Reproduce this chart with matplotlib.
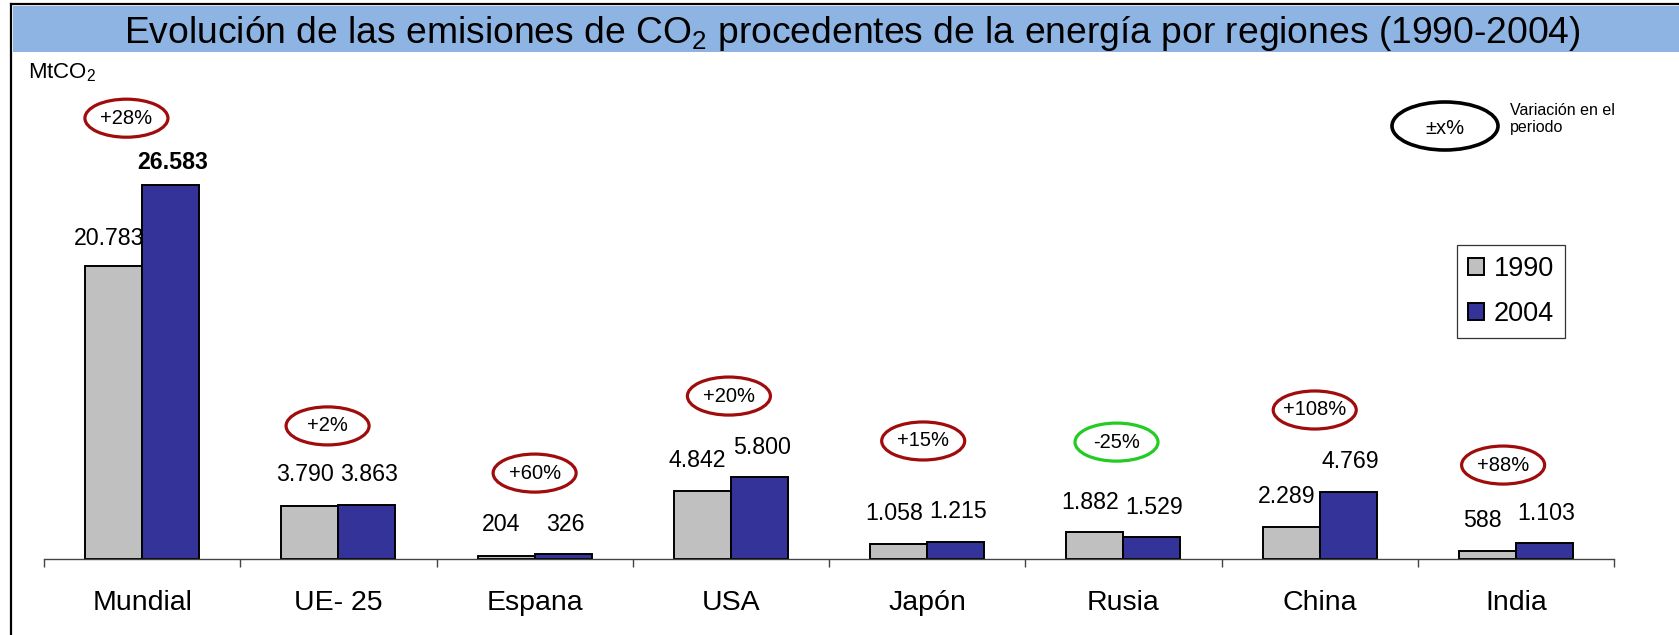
import matplotlib
matplotlib.use("Agg")
import matplotlib.pyplot as plt
from matplotlib.patches import Ellipse, Rectangle
from matplotlib.lines import Line2D
import numpy as np

plt.rcParams['font.family'] = ['Liberation Sans', 'DejaVu Sans']
plt.rcParams['mathtext.fontset'] = 'custom'
plt.rcParams['mathtext.rm'] = 'Liberation Sans'
plt.rcParams['mathtext.it'] = 'Liberation Sans'
plt.rcParams['mathtext.default'] = 'regular'

# data (MtCO2)
regions = ["Mundial", "UE- 25", "Espana", "USA", "Japón", "Rusia", "China", "India"]
emis_1990 = [20783, 3790, 204, 4842, 1058, 1882, 2289, 588]
emis_2004 = [26583, 3863, 326, 5800, 1215, 1529, 4769, 1103]
variation = ["+28%", "+2%", "+60%", "+20%", "+15%", "-25%", "+108%", "+88%"]

# where the ellipses sit
ellipse_y = [31300, 9450, 6100, 11570, 8380, 8300, 10580, 6670]
ellipse_dx = [-0.08, -0.055, 0.0, -0.01, -0.02, -0.035, -0.025, -0.065]

W, H = 1679, 635
fig = plt.figure(figsize=(W / 100, H / 100), dpi=100)

def fx(px):
    return px / W

def fy(py):
    return 1 - py / H

# frame and title band
fig.add_artist(Line2D([fx(11), 1], [fy(4), fy(4)], color='black', lw=1.6))
fig.add_artist(Line2D([fx(11), fx(11)], [fy(4), 0], color='black', lw=1.6))
fig.add_artist(Rectangle((fx(13), fy(52)), 1 - fx(13), fy(6) - fy(52),
                         facecolor='#8DB4E2', edgecolor='none'))
fig.text(fx(852), fy(43), "Evolución de las emisiones de CO$_2$ procedentes de la energía por regiones (1990-2004)",
         ha='center', va='baseline', fontsize=26.8)
fig.text(fx(28), fy(78), "MtCO$_2$", ha='left', va='baseline', fontsize=16)

ax = fig.add_axes([fx(44), fy(559), fx(1614) - fx(44), fy(52) - fy(559)])
ax.set_xlim(-0.5, len(regions) - 0.5)
ax.set_ylim(0, 36000)

x = np.arange(len(regions))
bw = 0.29
b1 = ax.bar(x - bw / 2, emis_1990, bw, color='#C0C0C0', edgecolor='black', lw=1.4, label='1990')
b2 = ax.bar(x + bw / 2, emis_2004, bw, color='#333399', edgecolor='black', lw=1.4, label='2004')

def fmt(v):
    return f"{v:,}".replace(",", ".")

for i in range(len(regions)):
    top = max(emis_1990[i], emis_2004[i]) if i in (1, 2) else None
    y1 = (top if top else emis_1990[i]) + 2150
    y2 = (top if top else emis_2004[i]) + 2150
    if i == 0:
        y1 -= 150
        y2 -= 600
    bold = 'bold' if i == 0 else 'normal'
    ax.text(x[i] - bw / 2 - 0.025, y1, fmt(emis_1990[i]), ha='center', va='center', fontsize=16.7)
    ax.text(x[i] + bw / 2 + 0.012, y2, fmt(emis_2004[i]), ha='center', va='center',
            fontsize=16.7, fontweight=bold)

for i, lab in enumerate(variation):
    col = '#22CC22' if lab.startswith('-') else '#A00C0C'
    cx = x[i] + ellipse_dx[i]
    ax.add_patch(Ellipse((cx, ellipse_y[i]), 0.423, 2700, facecolor='none',
                         edgecolor=col, lw=2.3))
    ax.text(cx, ellipse_y[i], lab, ha='center', va='center', fontsize=14.5)

for s in ['top', 'right', 'left']:
    ax.spines[s].set_visible(False)
ax.spines['bottom'].set_color('#444444')
ax.spines['bottom'].set_linewidth(1.0)
ax.set_yticks([])
ax.set_xticks(x)
ax.set_xticklabels(regions, fontsize=20.5)
ax.tick_params(axis='x', which='major', length=0, pad=22)
ax.set_xticks(np.arange(-0.5, len(regions)), minor=True)
ax.tick_params(axis='x', which='minor', length=6, width=1.0, color='#444444')

# key for the ellipses
fig.add_artist(Ellipse((fx(1445), fy(126)), fx(106), 48 / H, facecolor='none',
                       edgecolor='black', lw=2.6, transform=fig.transFigure))
fig.text(fx(1445), fy(128), "±x%", ha='center', va='center', fontsize=14.5)
fig.text(fx(1510), fy(103), "Variación en el\nperiodo", ha='left', va='top', fontsize=11.5,
         linespacing=1.15)

leg = ax.legend(handles=[b1, b2], loc='upper left',
                bbox_to_anchor=(fx(1457), fy(245)), bbox_transform=fig.transFigure,
                fontsize=19.5, frameon=True, fancybox=False, edgecolor='black',
                handlelength=0.6, handleheight=0.6, handletextpad=0.35,
                labelspacing=0.72, borderpad=0.4, borderaxespad=0)
leg.get_frame().set_linewidth(0.9)

fig.savefig("out.png", dpi=100)
